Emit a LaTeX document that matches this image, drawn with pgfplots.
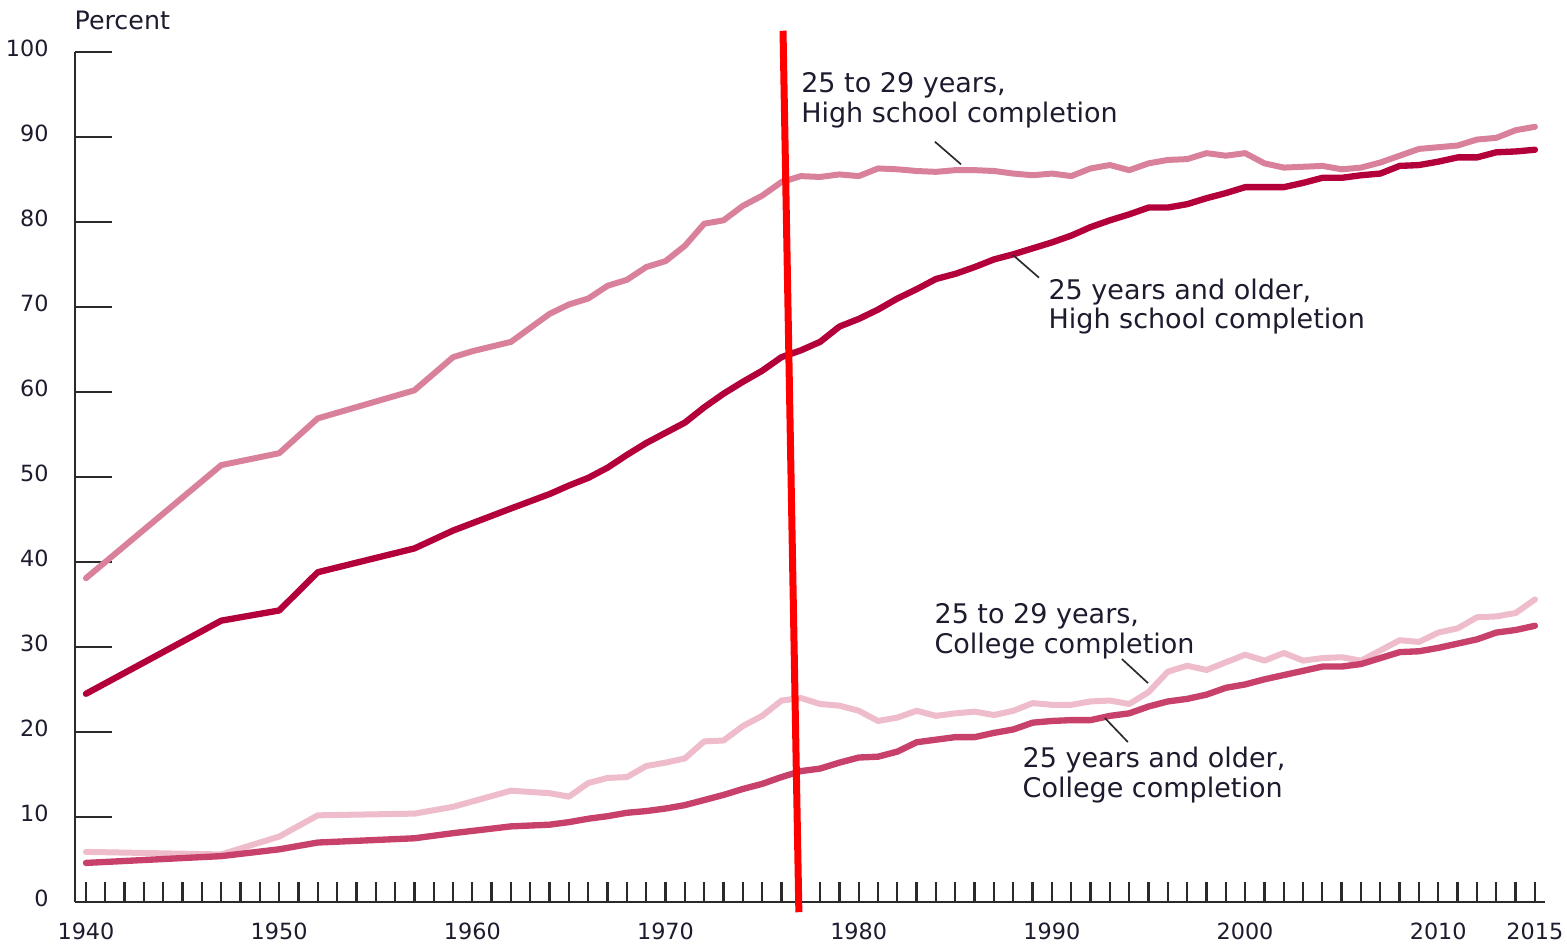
\documentclass[border=0pt]{standalone}
\usepackage{pgfplots}
\pgfplotsset{compat=1.18}
\usepackage{fontspec}
\setmainfont{DejaVu Sans}
\definecolor{hsyoung}{HTML}{D9819A}
\definecolor{hsall}{HTML}{B4003A}
\definecolor{colyoung}{HTML}{EEBCCB}
\definecolor{colall}{HTML}{C8416B}
\definecolor{txt}{HTML}{1E1B2E}
\definecolor{axcol}{HTML}{2A2A2A}

\pgfplotstableread{
year val
1940 24.5
1947 33.1
1950 34.3
1952 38.8
1957 41.6
1959 43.7
1962 46.3
1964 48.0
1965 49.0
1966 49.9
1967 51.1
1968 52.6
1969 54.0
1970 55.2
1971 56.4
1972 58.2
1973 59.8
1974 61.2
1975 62.5
1976 64.1
1977 64.9
1978 65.9
1979 67.7
1980 68.6
1981 69.7
1982 71.0
1983 72.1
1984 73.3
1985 73.9
1986 74.7
1987 75.6
1988 76.2
1989 76.9
1990 77.6
1991 78.4
1992 79.4
1993 80.2
1994 80.9
1995 81.7
1996 81.7
1997 82.1
1998 82.8
1999 83.4
2000 84.1
2001 84.1
2002 84.1
2003 84.6
2004 85.2
2005 85.2
2006 85.5
2007 85.7
2008 86.6
2009 86.7
2010 87.1
2011 87.6
2012 87.6
2013 88.2
2014 88.3
2015 88.5
}\hsall

\pgfplotstableread{
year val
1940 38.1
1947 51.4
1950 52.8
1952 56.9
1957 60.2
1959 64.1
1960 64.8
1962 65.9
1964 69.2
1965 70.3
1966 71.0
1967 72.5
1968 73.2
1969 74.7
1970 75.4
1971 77.2
1972 79.8
1973 80.2
1974 81.9
1975 83.1
1976 84.7
1977 85.4
1978 85.3
1979 85.6
1980 85.4
1981 86.3
1982 86.2
1983 86.0
1984 85.9
1985 86.1
1986 86.1
1987 86.0
1988 85.7
1989 85.5
1990 85.7
1991 85.4
1992 86.3
1993 86.7
1994 86.1
1995 86.9
1996 87.3
1997 87.4
1998 88.1
1999 87.8
2000 88.1
2001 86.9
2002 86.4
2003 86.5
2004 86.6
2005 86.2
2006 86.4
2007 87.0
2008 87.8
2009 88.6
2010 88.8
2011 89.0
2012 89.7
2013 89.9
2014 90.8
2015 91.2
}\hsyoung

\pgfplotstableread{
year val
1940 4.6
1947 5.4
1950 6.2
1952 7.0
1957 7.5
1959 8.1
1962 8.9
1964 9.1
1965 9.4
1966 9.8
1967 10.1
1968 10.5
1969 10.7
1970 11.0
1971 11.4
1972 12.0
1973 12.6
1974 13.3
1975 13.9
1976 14.7
1977 15.4
1978 15.7
1979 16.4
1980 17.0
1981 17.1
1982 17.7
1983 18.8
1984 19.1
1985 19.4
1986 19.4
1987 19.9
1988 20.3
1989 21.1
1990 21.3
1991 21.4
1992 21.4
1993 21.9
1994 22.2
1995 23.0
1996 23.6
1997 23.9
1998 24.4
1999 25.2
2000 25.6
2001 26.2
2002 26.7
2003 27.2
2004 27.7
2005 27.7
2006 28.0
2007 28.7
2008 29.4
2009 29.5
2010 29.9
2011 30.4
2012 30.9
2013 31.7
2014 32.0
2015 32.5
}\colall

\pgfplotstableread{
year val
1940 5.9
1947 5.6
1950 7.7
1952 10.2
1957 10.4
1959 11.2
1962 13.1
1964 12.8
1965 12.4
1966 14.0
1967 14.6
1968 14.7
1969 16.0
1970 16.4
1971 16.9
1972 18.9
1973 19.0
1974 20.7
1975 21.9
1976 23.7
1977 24.0
1978 23.3
1979 23.1
1980 22.5
1981 21.3
1982 21.7
1983 22.5
1984 21.9
1985 22.2
1986 22.4
1987 22.0
1988 22.5
1989 23.4
1990 23.2
1991 23.2
1992 23.6
1993 23.7
1994 23.3
1995 24.7
1996 27.1
1997 27.8
1998 27.3
1999 28.2
2000 29.1
2001 28.4
2002 29.3
2003 28.4
2004 28.7
2005 28.8
2006 28.4
2007 29.6
2008 30.8
2009 30.6
2010 31.7
2011 32.2
2012 33.5
2013 33.6
2014 34.0
2015 35.6
}\colyoung

\begin{document}
\begin{tikzpicture}
\begin{axis}[
  at={(0,0)}, anchor=south west,
  scale only axis, width=441pt, height=255pt,
  xmin=1939.43, xmax=2015.52, ymin=0, ymax=100,
  clip=false,
  axis x line*=bottom, axis y line*=left,
  axis line style={line width=0.8pt, color=axcol},
  tick align=inside,
  xtick={1940,...,2015},
  xticklabels={1940,,,,,,,,,,1950,,,,,,,,,,1960,,,,,,,,,,1970,,,,,,,,,,1980,,,,,,,,,,1990,,,,,,,,,,2000,,,,,,,,,,2010,,,,,2015},
  ytick={0,10,...,100},
  xtick style={line width=0.7pt, color=axcol, /pgfplots/major tick length=6pt},
  ytick style={line width=0.7pt, color=axcol, /pgfplots/major tick length=11.1pt},
  ticklabel style={font=\fontsize{6.7}{7}\selectfont, text=txt},
  xticklabel style={yshift=-2.8pt},
  yticklabel style={xshift=-4.4pt, yshift=1.2pt},
  /pgf/number format/assume math mode=true,
  /pgf/number format/1000 sep={},
]
\addplot[hsyoung, line width=1.8pt, line join=round, line cap=round] table[x=year,y=val]{\hsyoung};
\addplot[hsall, line width=1.9pt, line join=round, line cap=round] table[x=year,y=val]{\hsall};
\addplot[colyoung, line width=1.8pt, line join=round, line cap=round] table[x=year,y=val]{\colyoung};
\addplot[colall, line width=1.9pt, line join=round, line cap=round] table[x=year,y=val]{\colall};

\draw[red, line width=2.1pt] (axis cs:1976.08,102.5) -- (axis cs:1976.90,-1.2);

\draw[axcol, line width=0.5pt] (axis cs:1983.94,89.45) -- (axis cs:1985.29,86.79);
\draw[axcol, line width=0.5pt] (axis cs:1987.98,76.12) -- (axis cs:1989.33,73.45);
\draw[axcol, line width=0.5pt] (axis cs:1993.62,28.59) -- (axis cs:1994.97,25.76);
\draw[axcol, line width=0.5pt] (axis cs:1992.74,21.65) -- (axis cs:1993.93,18.82);

\tikzset{ann/.style={anchor=base west, inner sep=0pt, text=txt, font=\fontsize{8.1}{9.3}\selectfont}}
\node[ann] at (axis cs:1976.99,95.29) {25 to 29 years,};
\node[ann] at (axis cs:1976.99,91.65) {High school completion};
\node[ann] at (axis cs:1989.79,70.94) {25 years and older,};
\node[ann] at (axis cs:1989.79,67.53) {High school completion};
\node[ann] at (axis cs:1983.89,32.82) {25 to 29 years,};
\node[ann] at (axis cs:1983.89,29.29) {College completion};
\node[ann] at (axis cs:1988.45,15.88) {25 years and older,};
\node[ann] at (axis cs:1988.45,12.24) {College completion};

\node[anchor=base west, inner sep=0pt, text=txt, font=\fontsize{7.6}{9}\selectfont] at (axis cs:1939.38,102.7) {Percent};

\coordinate (bbll) at (axis cs:1935.55,-5.18);
\coordinate (bbur) at (axis cs:2016.66,106.12);
\end{axis}
\pgfresetboundingbox
\path[use as bounding box] (bbll) rectangle (bbur);
\end{tikzpicture}
\end{document}
